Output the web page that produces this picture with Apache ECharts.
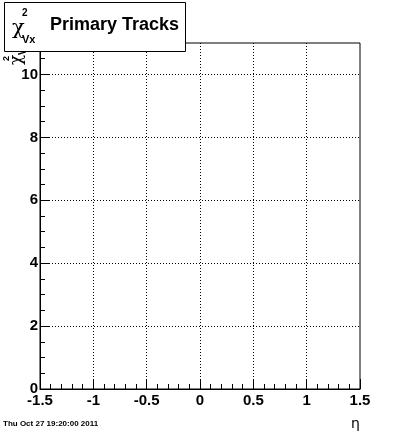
<!DOCTYPE html>
<html><head><meta charset="utf-8">
<script src="https://cdn.jsdelivr.net/npm/echarts@6/dist/echarts.min.js"></script>
<style>html,body{margin:0;padding:0;background:#fff}#c{width:400px;height:433px}</style>
</head><body><div id="c"></div>
<script>
const xRange = [-1.5, 1.5];
const xMajor = 0.5, xMinor = 0.1;
const yRange = [0, 11];
const yMajor = 2, yMinor = 0.5;
const histData = []; // empty histogram
const titleMain = 'Primary Tracks';
const dateText = 'Thu Oct 27 19:20:00 2011';
const xTitle = 'η';

const FONT = 'Liberation Sans';
const chart = echarts.init(document.getElementById('c'), null, {renderer: 'canvas'});
const gridStyle = {show: true, showMaxLine: false, lineStyle: {color: '#000', width: 1, type: [1, 2]}};
chart.setOption({
  animation: false,
  backgroundColor: '#fff',
  grid: {left: 40, right: 40, top: 43, bottom: 44, show: true, borderColor: '#000', borderWidth: 1, backgroundColor: '#fff'},
  xAxis: [
    {type: 'value', min: xRange[0], max: xRange[1], interval: xMajor,
     axisLine: {show: true, onZero: false, lineStyle: {color: '#000', width: 1}},
     axisTick: {show: true, inside: true, length: 10, lineStyle: {color: '#000'}},
     axisLabel: {show: true, margin: 4, color: '#000', fontFamily: FONT, fontWeight: 'bold', fontSize: 15},
     splitLine: gridStyle},
    {type: 'value', min: xRange[0], max: xRange[1], interval: xMinor, position: 'bottom',
     axisLine: {show: false, onZero: false}, axisTick: {show: true, inside: true, length: 5, lineStyle: {color: '#000'}},
     axisLabel: {show: false}, splitLine: {show: false}}
  ],
  yAxis: [
    {type: 'value', min: yRange[0], max: yRange[1], interval: yMajor,
     axisLine: {show: true, onZero: false, lineStyle: {color: '#000', width: 1}},
     axisTick: {show: true, inside: true, length: 9, lineStyle: {color: '#000'}},
     axisLabel: {show: true, showMaxLabel: false, margin: 2, color: '#000', fontFamily: FONT, fontWeight: 'bold', fontSize: 15,
       formatter: v => (v > 10 ? '' : String(v))},
     splitLine: gridStyle},
    {type: 'value', min: yRange[0], max: yRange[1], interval: yMinor, position: 'left',
     axisLine: {show: false, onZero: false}, axisTick: {show: true, inside: true, length: 5, lineStyle: {color: '#000'}},
     axisLabel: {show: false}, splitLine: {show: false}}
  ],
  series: [{type: 'line', data: histData, xAxisIndex: 0, yAxisIndex: 0, showSymbol: false}],
  graphic: [
    {type: 'group', x: 17, y: 65, rotation: Math.PI / 2, z: 10, children: [
      {type: 'text', x: 0, y: 0, style: {text: 'χ', fill: '#000', font: '17px "DejaVu Serif"', textAlign: 'left', textVerticalAlign: 'middle'}},
      {type: 'text', x: 4, y: -10, style: {text: '2', fill: '#000', font: 'bold 9px ' + FONT, textAlign: 'left', textVerticalAlign: 'middle'}},
      {type: 'text', x: 10, y: 6, style: {text: 'Vx', fill: '#000', font: 'bold 10px ' + FONT, textAlign: 'left', textVerticalAlign: 'middle'}}
    ]},
    {type: 'rect', z: 20, shape: {x: 4.5, y: 2.5, width: 181, height: 49}, style: {fill: '#fff', stroke: '#000', lineWidth: 1}},
    {type: 'text', z: 21, x: 12, y: 29, style: {text: 'χ', fill: '#000', font: '21px "DejaVu Serif"', textVerticalAlign: 'middle'}},
    {type: 'text', z: 21, x: 22, y: 13, style: {text: '2', fill: '#000', font: 'bold 10px ' + FONT, textVerticalAlign: 'middle'}},
    {type: 'text', z: 21, x: 22, y: 40, style: {text: 'Vx', fill: '#000', font: 'bold 11px ' + FONT, textVerticalAlign: 'middle'}},
    {type: 'text', z: 21, x: 50, y: 25, style: {text: titleMain, fill: '#000', font: 'bold 18px ' + FONT, textVerticalAlign: 'middle'}},
    {type: 'text', x: 3, y: 424, style: {text: dateText, fill: '#000', font: 'bold 8px ' + FONT, textVerticalAlign: 'middle'}},
    {type: 'text', x: 351, y: 424, style: {text: xTitle, fill: '#000', font: '14px "DejaVu Sans"', textVerticalAlign: 'middle'}}
  ]
});
</script></body></html>
